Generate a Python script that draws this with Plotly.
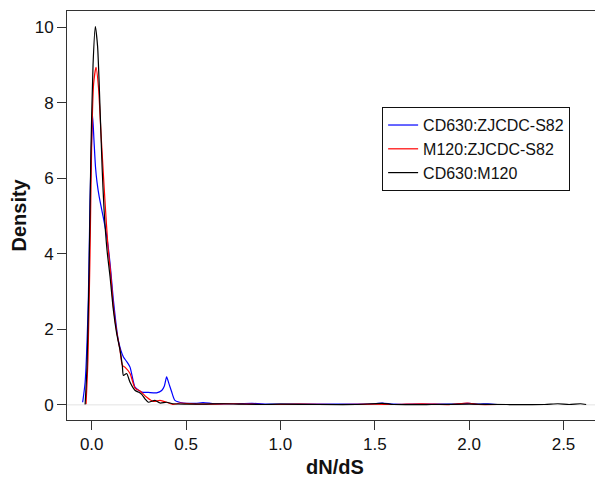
import plotly.graph_objects as go

# ---- data ----
series_names = ["CD630:ZJCDC-S82", "M120:ZJCDC-S82", "CD630:M120"]

blue_x = [-0.048, -0.035, -0.018, -0.009, 0.0, 0.005, 0.012, 0.02, 0.028, 0.04, 0.06, 0.075,
          0.087, 0.1, 0.115, 0.141, 0.168, 0.185, 0.203, 0.229, 0.25, 0.265, 0.30, 0.344,
          0.371, 0.385, 0.397, 0.41, 0.424, 0.441, 0.486, 0.55, 0.59, 0.65, 0.75, 0.85,
          0.95, 1.1, 1.25, 1.4, 1.5, 1.54, 1.6, 1.75, 1.9, 2.0, 2.05, 2.1, 2.15]
blue_y = [0.07, 0.6, 2.77, 5.42, 7.1, 7.65, 7.0, 6.3, 5.9, 5.5, 5.0, 4.6,
          4.2, 3.6, 2.77, 1.71, 1.27, 1.15, 1.0, 0.47, 0.38, 0.34, 0.33, 0.32,
          0.38, 0.5, 0.74, 0.55, 0.34, 0.12, 0.05, 0.04, 0.06, 0.03, 0.03, 0.04,
          0.02, 0.02, 0.02, 0.02, 0.03, 0.05, 0.02, 0.02, 0.02, 0.04, 0.02, 0.03, 0.01]

red_x = [-0.03, -0.02, -0.009, 0.0, 0.01, 0.023, 0.036, 0.049, 0.063, 0.07, 0.086, 0.1,
         0.115, 0.132, 0.15, 0.162, 0.176, 0.203, 0.23, 0.256, 0.29, 0.327, 0.362, 0.397,
         0.43, 0.47, 0.55, 0.65, 0.75, 0.85, 0.95, 1.1, 1.3, 1.5, 1.6, 1.75, 1.9, 1.99,
         2.05, 2.15]
red_y = [0.02, 1.2, 4.0, 7.0, 8.5, 8.94, 8.4, 7.2, 6.0, 5.42, 4.2, 3.5,
         2.6, 1.95, 1.45, 1.05, 1.0, 0.83, 0.44, 0.37, 0.21, 0.09, 0.12, 0.07,
         0.01, 0.05, 0.02, 0.02, 0.03, 0.02, 0.01, 0.02, 0.01, 0.02, 0.01, 0.03, 0.01, 0.05,
         0.01, 0.01]

black_x = [-0.035, -0.025, -0.014, -0.004, 0.007, 0.019, 0.031, 0.041, 0.055, 0.065, 0.081,
           0.097, 0.115, 0.132, 0.15, 0.162, 0.168, 0.185, 0.203, 0.23, 0.247, 0.265, 0.282,
           0.30, 0.335, 0.362, 0.397, 0.43, 0.5, 0.6, 0.7, 0.8, 0.9, 1.0, 1.2, 1.4, 1.54,
           1.6, 1.8, 2.0, 2.2, 2.4, 2.47, 2.53, 2.59, 2.62]
black_y = [0.01, 1.0, 3.5, 6.8, 9.0, 10.02, 9.5, 8.3, 6.3, 5.2, 4.1,
           3.4, 2.5, 1.9, 1.45, 1.05, 0.78, 0.83, 0.6, 0.38, 0.34, 0.28, 0.16,
           0.07, 0.12, 0.05, 0.07, 0.03, 0.02, 0.02, 0.03, 0.02, 0.01, 0.02, 0.01, 0.01, 0.04,
           0.01, 0.01, 0.02, 0.01, 0.01, 0.03, 0.01, 0.03, 0.01]

x_ticks = [0.0, 0.5, 1.0, 1.5, 2.0, 2.5]
x_tick_labels = ["0.0", "0.5", "1.0", "1.5", "2.0", "2.5"]
y_ticks = [0, 2, 4, 6, 8, 10]
y_tick_labels = ["0", "2", "4", "6", "8", "10"]
x_title = "dN/dS"
y_title = "Density"

colors = ["#0000FF", "#FF0000", "#000000"]

fig = go.Figure()
for name, xs, ys, c in zip(series_names,
                           [blue_x, red_x, black_x],
                           [blue_y, red_y, black_y], colors):
    fig.add_trace(go.Scatter(x=xs, y=ys, mode="lines", name=name,
                             line=dict(color=c, width=1.2, shape="spline", smoothing=0.6)))

# faint zero line
fig.add_shape(type="line", xref="paper", yref="y", x0=0, x1=1, y0=0, y1=0,
              line=dict(color="#e3e3e3", width=1), layer="below")

FAM = "Liberation Sans, Arial, sans-serif"
axis_font = dict(family=FAM, size=17, color="#111")
title_font = dict(family=FAM, size=20, color="#111")

fig.add_annotation(text="<b>%s</b>" % x_title, xref="paper", yref="paper",
                   x=0.5, y=0, xanchor="center", yanchor="middle", yshift=-47,
                   showarrow=False, font=title_font)
fig.add_annotation(text="<b>%s</b>" % y_title, xref="paper", yref="paper",
                   x=0, y=0.5, xanchor="center", yanchor="middle", xshift=-49,
                   textangle=-90, showarrow=False, font=title_font)

# the page body adds an 8px offset; size the figure so the plot lands where the reference has it
fig.update_layout(
    width=595, height=472,
    margin=dict(l=59, r=1, t=3, b=60),
    paper_bgcolor="white", plot_bgcolor="white",
    font=dict(family=FAM),
    xaxis=dict(range=[-0.131, 2.704], tickvals=x_ticks, ticktext=x_tick_labels,
               ticks="outside", ticklen=9, tickcolor="#333", tickwidth=1,
               showline=True, linecolor="#333", linewidth=1, mirror=True,
               showgrid=False, zeroline=False, tickfont=axis_font, automargin=False),
    yaxis=dict(range=[-0.40, 10.43], tickvals=y_ticks, ticktext=y_tick_labels,
               ticks="outside", ticklen=9, tickcolor="#333", tickwidth=1,
               showline=True, linecolor="#333", linewidth=1, mirror=True,
               showgrid=False, zeroline=False, tickfont=axis_font, automargin=False),
    legend=dict(x=0.589, y=0.765, xanchor="left", yanchor="top",
                bgcolor="white", bordercolor="#111", borderwidth=1,
                font=dict(family=FAM, size=16, color="#111"),
                itemwidth=30, tracegroupgap=0),
    showlegend=True,
)

fig.write_html("out.html")
